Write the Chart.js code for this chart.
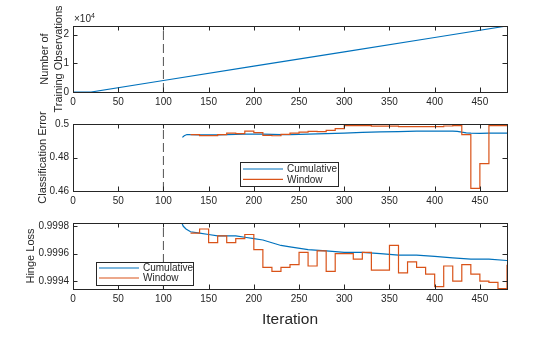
<!DOCTYPE html>
<html>
<head>
<meta charset="utf-8">
<script src="https://cdn.jsdelivr.net/npm/chart.js@4.4.1/dist/chart.umd.min.js"></script>
<style>
  body { margin: 0; background: #fff; }
  #wrap { position: relative; width: 560px; height: 337px; overflow: hidden; }
  .pane { position: absolute; left: 0; width: 560px; }
</style>
</head>
<body>
<div id="wrap">
  <div class="pane" style="top:0;height:115px"><canvas id="obsChart" width="560" height="115"></canvas></div>
  <div class="pane" style="top:105px;height:105px"><canvas id="errChart" width="560" height="105"></canvas></div>
  <div class="pane" style="top:205px;height:132px"><canvas id="lossChart" width="560" height="132"></canvas></div>
</div>
<script>
// shared x axis
var xTicks = [0, 50, 100, 150, 200, 250, 300, 350, 400, 450];
var splitIter = 100;

// panel 1 - number of training observations
var obsIter = [0, 20, 100, 200, 300, 400, 480];
var obsCount = [0, 0, 4000, 9000, 14000, 19000, 23000];
var obsTicks = [0, 10000, 20000];
var obsTickLabels = ['0', '1', '2'];

// panel 2 - classification error
var errCumIter = [121, 123, 126, 130, 140, 150, 160, 170, 180, 190, 200, 210, 220, 230, 240, 260, 280, 300, 320, 340, 360, 380, 400, 420, 425, 430, 435, 440, 450, 460, 470, 480];
var errCum = [0.4920, 0.4930, 0.4937, 0.4936, 0.4935, 0.4935, 0.4935, 0.4937, 0.4938, 0.4940, 0.4940, 0.4939, 0.4938, 0.4937, 0.4937, 0.4939, 0.4942, 0.4946, 0.4950, 0.4953, 0.4955, 0.4957, 0.4958, 0.4958, 0.4956, 0.4951, 0.4947, 0.4945, 0.4944, 0.4945, 0.4946, 0.4946];
var errWinIter = [130, 140, 150, 160, 170, 180, 190, 200, 210, 220, 230, 240, 250, 260, 270, 280, 290, 300, 310, 320, 330, 340, 350, 360, 370, 380, 390, 400, 410, 420, 430, 440, 450, 460, 470, 480];
var errWin = [0.4936, 0.4931, 0.4931, 0.4936, 0.4946, 0.4942, 0.4958, 0.4948, 0.4932, 0.4930, 0.4938, 0.4946, 0.4952, 0.4956, 0.4955, 0.4962, 0.4972, 0.4990, 0.4990, 0.4990, 0.4987, 0.4987, 0.4987, 0.4984, 0.4984, 0.4984, 0.4984, 0.4984, 0.4988, 0.4990, 0.4936, 0.4616, 0.4764, 0.4990, 0.4990, 0.4990];
var errTicks = [0.46, 0.48, 0.5];
var errTickLabels = ['0.46', '0.48', '0.5'];

// panel 3 - hinge loss
var lossCumIter = [120, 122, 125, 130, 140, 150, 160, 170, 180, 190, 200, 210, 220, 230, 240, 260, 280, 300, 320, 340, 360, 380, 400, 420, 440, 460, 480];
var lossCum = [0.99983, 0.99980, 0.99978, 0.99976, 0.99975, 0.99974, 0.99973, 0.99973, 0.99973, 0.99972, 0.99971, 0.99970, 0.99968, 0.99966, 0.99965, 0.99963, 0.99962, 0.99961, 0.99961, 0.99960, 0.99959, 0.99959, 0.99958, 0.99957, 0.99956, 0.99956, 0.99955];
var lossWinIter = [130, 140, 150, 160, 170, 180, 190, 200, 210, 220, 230, 240, 250, 260, 270, 280, 290, 300, 310, 320, 330, 340, 350, 360, 370, 380, 390, 400, 410, 420, 430, 440, 450, 460, 470, 480];
var lossWin = [0.99975, 0.99978, 0.99968, 0.99973, 0.99968, 0.99971, 0.99974, 0.99963, 0.99950, 0.99947, 0.99950, 0.99952, 0.99961, 0.99951, 0.99962, 0.99947, 0.99960, 0.99960, 0.99956, 0.99961, 0.99948, 0.99948, 0.99966, 0.99946, 0.99954, 0.99950, 0.99945, 0.99936, 0.99951, 0.99940, 0.99952, 0.99945, 0.99940, 0.99939, 0.999345, 0.99952];
var lossTicks = [0.9994, 0.9996, 0.9998];
var lossTickLabels = ['0.9994', '0.9996', '0.9998'];

var FONT = '"Liberation Sans", Arial, Helvetica, sans-serif';
var INK = '#262626';
var BLUE = '#0072BD';
var ORANGE = '#D95319';
Chart.defaults.font.family = FONT;

function points(xs, ys) {
    return xs.map(function (x, i) { return { x: x, y: ys[i] }; });
}

// box, inward ticks, x10^4 note and legend, the way MATLAB draws its axes
var matlabAxes = {
    id: 'matlabAxes',
    afterDatasetsDraw: function (chart, args, opts) {
        var ctx = chart.ctx, a = chart.chartArea;
        var xs = chart.scales.x, ys = chart.scales.y;
        var tl = 4.5;
        ctx.save();
        ctx.strokeStyle = INK;
        ctx.lineWidth = 1;
        ctx.beginPath();
        xs.ticks.forEach(function (t) {
            var px = Math.round(xs.getPixelForValue(t.value)) + 0.5;
            ctx.moveTo(px, a.bottom); ctx.lineTo(px, a.bottom - tl);
            ctx.moveTo(px, a.top); ctx.lineTo(px, a.top + tl);
        });
        ys.ticks.forEach(function (t) {
            var py = Math.round(ys.getPixelForValue(t.value)) + 0.5;
            ctx.moveTo(a.left, py); ctx.lineTo(a.left + tl, py);
            ctx.moveTo(a.right, py); ctx.lineTo(a.right - tl, py);
        });
        ctx.stroke();
        ctx.strokeRect(Math.round(a.left) + 0.5, Math.round(a.top) + 0.5, Math.round(a.right - a.left), Math.round(a.bottom - a.top));

        if (opts.exponent) {
            ctx.fillStyle = INK;
            ctx.textBaseline = 'middle';
            ctx.textAlign = 'left';
            ctx.font = '10px ' + FONT;
            ctx.fillText('\u00d710', a.left + 1, a.top - 6.5);
            var w = ctx.measureText('\u00d710').width;
            ctx.font = '7px ' + FONT;
            ctx.fillText(opts.exponent, a.left + 1 + w, a.top - 10);
        }

        var lg = opts.legend;
        if (lg) {
            var x = Math.round(a.left + lg.left), y = Math.round(a.top + lg.top);
            ctx.fillStyle = '#fff';
            ctx.fillRect(x, y, lg.width, lg.height);
            ctx.strokeStyle = INK;
            ctx.lineWidth = 1;
            ctx.strokeRect(x + 0.5, y + 0.5, lg.width, lg.height);
            ctx.font = '10px ' + FONT;
            ctx.textBaseline = 'middle';
            ctx.textAlign = 'left';
            var rowY = y + lg.firstRow;
            chart.data.datasets.forEach(function (ds) {
                if (!ds.label) return;
                ctx.strokeStyle = ds.borderColor;
                ctx.lineWidth = ds.borderWidth;
                ctx.beginPath();
                ctx.moveTo(x + 3, rowY);
                ctx.lineTo(x + 43, rowY);
                ctx.stroke();
                ctx.fillStyle = INK;
                ctx.fillText(ds.label, x + 47, rowY + 0.5);
                rowY += lg.rowGap;
            });
        }
        ctx.restore();
    }
};

function splitLine(yMin, yMax) {
    return {
        label: '',
        data: [{ x: splitIter, y: yMin }, { x: splitIter, y: yMax }],
        borderColor: INK,
        borderWidth: 0.8,
        borderDash: [9, 4],
        pointRadius: 0,
        order: 3
    };
}

function createPanel(canvasId, cfg) {
    var ctx = document.getElementById(canvasId).getContext('2d');
    var datasets = [splitLine(cfg.yMin, cfg.yMax)].concat(cfg.datasets);
    new Chart(ctx, {
        type: 'line',
        data: { datasets: datasets },
        plugins: [matlabAxes],
        options: {
            responsive: false,
            animation: false,
            events: [],
            layout: { padding: { top: cfg.padTop, right: 53, left: 0, bottom: 0 } },
            plugins: {
                legend: { display: false },
                tooltip: { enabled: false },
                matlabAxes: { exponent: cfg.exponent, legend: cfg.legend }
            },
            scales: {
                x: {
                    type: 'linear',
                    min: 0,
                    max: 480,
                    grid: { display: false, drawTicks: false },
                    border: { display: false },
                    afterBuildTicks: function (s) {
                        s.ticks = xTicks.map(function (v) { return { value: v }; });
                    },
                    ticks: { color: INK, font: { size: 10 }, padding: 4, maxRotation: 0, autoSkip: false },
                    title: cfg.xTitle || { display: false },
                    afterFit: function (s) { s.height = cfg.xHeight; }
                },
                y: {
                    type: 'linear',
                    min: cfg.yMin,
                    max: cfg.yMax,
                    grid: { display: false, drawTicks: false },
                    border: { display: false },
                    afterBuildTicks: function (s) {
                        s.ticks = cfg.yTicks.map(function (v) { return { value: v }; });
                    },
                    ticks: {
                        color: INK,
                        font: { size: 10 },
                        padding: 4,
                        callback: function (v, i) { return cfg.yTickLabels[i]; }
                    },
                    title: {
                        display: true,
                        text: cfg.yTitle,
                        color: INK,
                        font: { size: 11, lineHeight: 1.3 },
                        padding: { top: cfg.yTitlePad, bottom: 0 }
                    },
                    afterFit: function (s) { s.width = 73; }
                }
            }
        }
    });
}

// top panel
createPanel('obsChart', {
    padTop: 26, xHeight: 23,
    yMin: 0, yMax: 23000,
    yTicks: obsTicks, yTickLabels: obsTickLabels,
    yTitle: ['Number of', 'Training Observations'], yTitlePad: 37.5,
    exponent: '4',
    datasets: [{
        data: points(obsIter, obsCount),
        borderColor: BLUE, borderWidth: 1.2, pointRadius: 0, tension: 0, order: 2
    }]
});

// middle panel
createPanel('errChart', {
    padTop: 19, xHeight: 19,
    yMin: 0.46, yMax: 0.5,
    yTicks: errTicks, yTickLabels: errTickLabels,
    yTitle: 'Classification Error', yTitlePad: 36,
    legend: { left: 167, top: 38, width: 98, height: 24, firstRow: 7, rowGap: 10.3 },
    datasets: [{
        label: 'Cumulative',
        data: points(errCumIter, errCum),
        borderColor: BLUE, borderWidth: 1.2, pointRadius: 0, tension: 0, order: 2
    }, {
        label: 'Window',
        data: points(errWinIter, errWin),
        borderColor: ORANGE, borderWidth: 1.2, pointRadius: 0, stepped: true, order: 1
    }]
});

// bottom panel
createPanel('lossChart', {
    padTop: 18, xHeight: 48,
    yMin: 0.999342, yMax: 0.999824,
    yTicks: lossTicks, yTickLabels: lossTickLabels,
    yTitle: 'Hinge Loss', yTitlePad: 24,
    legend: { left: 23, top: 39, width: 97, height: 23, firstRow: 6, rowGap: 10 },
    xTitle: { display: true, text: 'Iteration', color: INK, font: { size: 15.5 }, padding: { top: 0, bottom: 7.5 } },
    datasets: [{
        label: 'Cumulative',
        data: points(lossCumIter, lossCum),
        borderColor: BLUE, borderWidth: 1.2, pointRadius: 0, tension: 0, order: 2
    }, {
        label: 'Window',
        data: points(lossWinIter, lossWin),
        borderColor: ORANGE, borderWidth: 1.2, pointRadius: 0, stepped: true, order: 1
    }]
});
</script>
</body>
</html>
